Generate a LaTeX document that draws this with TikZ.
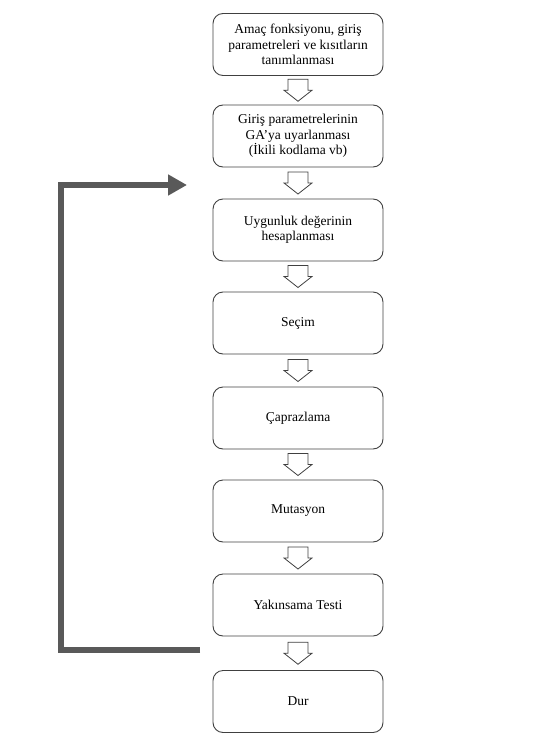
\documentclass[tikz,border=0pt]{standalone}
\usepackage{fontspec}
\setmainfont{Liberation Serif}
\usetikzlibrary{arrows.meta,calc}
\begin{document}
\begin{tikzpicture}[x=1pt,y=-1pt,
  stepbox/.style={draw=black!75,line width=0.9pt,rounded corners=10pt,
    minimum width=170pt,minimum height=62pt,align=center,inner sep=2pt,
    font=\fontsize{13.5}{15.5}\selectfont},
  hollowarrow/.pic={\draw[black!75,line width=0.8pt,fill=white]
     (-10,-11) -- (10,-11) -- (10,0) -- (14,0) -- (0,11) -- (-14,0) -- (-10,0) -- cycle;},
  feedback/.style={draw=black!65,line width=6pt,-{Triangle[length=19pt,width=20pt]}}]
\useasboundingbox (0,0) rectangle (539,744);
\node[stepbox] (b1) at (298,44.5) {Amaç fonksiyonu, giriş\\parametreleri ve kısıtların\\tanımlanması};
\node[stepbox] (b2) at (298,136) {Giriş parametrelerinin\\GA’ya uyarlanması\\(İkili kodlama vb)};
\node[stepbox] (b3) at (298,230) {Uygunluk değerinin\\hesaplanması};
\node[stepbox] (b4) at (298,323) {Seçim};
\node[stepbox] (b5) at (298,418) {Çaprazlama};
\node[stepbox] (b6) at (298,511) {Mutasyon};
\node[stepbox] (b7) at (298,605) {Yakınsama Testi};
\node[stepbox] (b8) at (298,701.5) {Dur};
\foreach \a/\b in {b1/b2,b2/b3,b3/b4,b4/b5,b5/b6,b6/b7,b7/b8}
  \pic at ($(\a.south)!0.5!(\b.north)$) {hollowarrow};
\coordinate (fbs) at (200,650);
\coordinate (fbe) at (187,185);
\draw[feedback] (fbs) -- (61,650) -- (61,185) -- (fbe);
\end{tikzpicture}
\end{document}
